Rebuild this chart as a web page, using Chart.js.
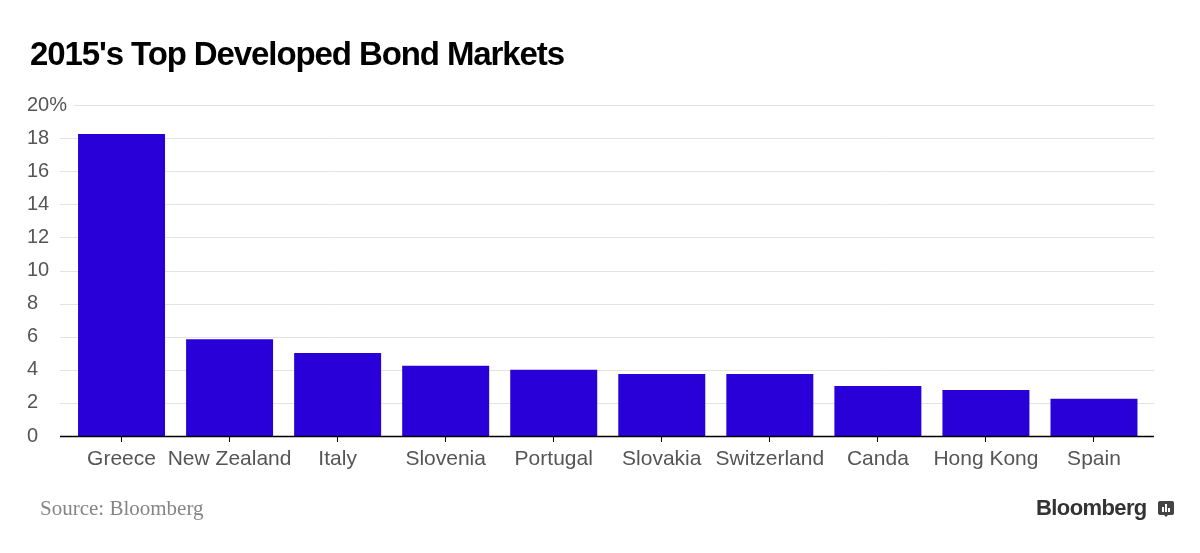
<!DOCTYPE html>
<html>
<head>
<meta charset="utf-8">
<script src="https://cdn.jsdelivr.net/npm/chart.js@4"></script>
<style>
  body { margin: 0; background: #fff; }
  #wrap { position: relative; width: 1200px; height: 553px; overflow: hidden; }
  #grafico { position: absolute; left: 0; top: 0; }
  .titulo { position: absolute; left: 30px; top: 37px; font: bold 33px/33px "Liberation Sans", Arial, sans-serif; letter-spacing: -1.1px; color: #000; white-space: nowrap; }
  .fuente { position: absolute; left: 40px; top: 498px; font: 21px/21px "Liberation Serif", "DejaVu Serif", serif; color: #858585; white-space: nowrap; }
  .marca { position: absolute; left: 1036px; top: 497px; font: bold 22px/22px "Liberation Sans", Arial, sans-serif; letter-spacing: -0.6px; color: #333; white-space: nowrap; }
  .icono { position: absolute; left: 1158px; top: 501px; width: 16px; height: 14px; background: #444; border-radius: 2px; }
  .icono span { position: absolute; bottom: 3px; width: 2px; background: #fff; }
  .icono::after { content: ''; position: absolute; left: 6px; top: 14px; border: 2px solid transparent; border-top-color: #444; }
</style>
</head>
<body>
<div id="wrap">
  <canvas id="grafico" width="1200" height="553"></canvas>
  <div class="titulo">2015's Top Developed Bond Markets</div>
  <div class="fuente">Source: Bloomberg</div>
  <div class="marca">Bloomberg</div>
  <div class="icono"><span style="left:4px;height:5px"></span><span style="left:7px;height:8px"></span><span style="left:10px;height:4px"></span></div>
</div>
<script>
const paises = ['Greece', 'New Zealand', 'Italy', 'Slovenia', 'Portugal', 'Slovakia', 'Switzerland', 'Canda', 'Hong Kong', 'Spain'];
const rendimientos = [18.25, 5.85, 5.02, 4.25, 4.0, 3.75, 3.75, 3.02, 2.78, 2.25];
const ticksY = [0, 2, 4, 6, 8, 10, 12, 14, 16, 18, 20];

const colorBarra = '#2a00d8';
const colorGrilla = '#e3e3e3';

// lineas de grilla y eje dibujadas a mano para que pasen un poco de los bordes
const grillaPlugin = {
    id: 'grilla',
    beforeDatasetsDraw(chart) {
        const ctx = chart.ctx;
        const y = chart.scales.y;
        ctx.save();
        ctx.lineWidth = 1;
        ctx.strokeStyle = colorGrilla;
        ticksY.forEach((v) => {
            if (v === 0) return;
            const py = Math.round(y.getPixelForValue(v)) + 0.5;
            const inicio = v === 20 ? 74 : 60;
            ctx.beginPath();
            ctx.moveTo(inicio, py);
            ctx.lineTo(1154, py);
            ctx.stroke();
        });
        ctx.restore();
    },
    afterDatasetsDraw(chart) {
        const ctx = chart.ctx;
        const py = Math.round(chart.scales.y.getPixelForValue(0)) + 0.5;
        ctx.save();
        ctx.strokeStyle = '#000';
        ctx.lineWidth = 1.5;
        ctx.beginPath();
        ctx.moveTo(60, py);
        ctx.lineTo(1154, py);
        ctx.stroke();
        ctx.restore();
    }
};

const config = {
    type: 'bar',
    data: {
        labels: paises,
        datasets: [{
            data: rendimientos,
            backgroundColor: colorBarra,
            barPercentage: 0.805,
            categoryPercentage: 1
        }]
    },
    options: {
        responsive: false,
        animation: false,
        layout: { padding: { left: 27, right: 52, top: 105, bottom: 77 } },
        plugins: { legend: { display: false }, tooltip: { enabled: false } },
        scales: {
            x: {
                offset: true,
                border: { display: false },
                grid: { drawOnChartArea: false, drawTicks: true, tickLength: 6, color: '#000', offset: false },
                ticks: { color: '#555', padding: 5, font: { family: 'Liberation Sans', size: 21 }, maxRotation: 0, autoSkip: false },
                afterFit(scale) { scale.height = 40; }
            },
            y: {
                min: 0,
                max: 20,
                border: { display: false },
                grid: { display: false },
                afterBuildTicks(scale) { scale.ticks = ticksY.map((v) => ({ value: v })); },
                ticks: {
                    color: '#555',
                    crossAlign: 'far',
                    padding: 0,
                    font: { family: 'Liberation Sans', size: 20 },
                    callback: (v) => (v === 20 ? '20%' : String(v))
                },
                afterFit(scale) { scale.width = 40.5; }
            }
        }
    },
    plugins: [grillaPlugin]
};

new Chart(document.querySelector('#grafico'), config);
</script>
</body>
</html>
